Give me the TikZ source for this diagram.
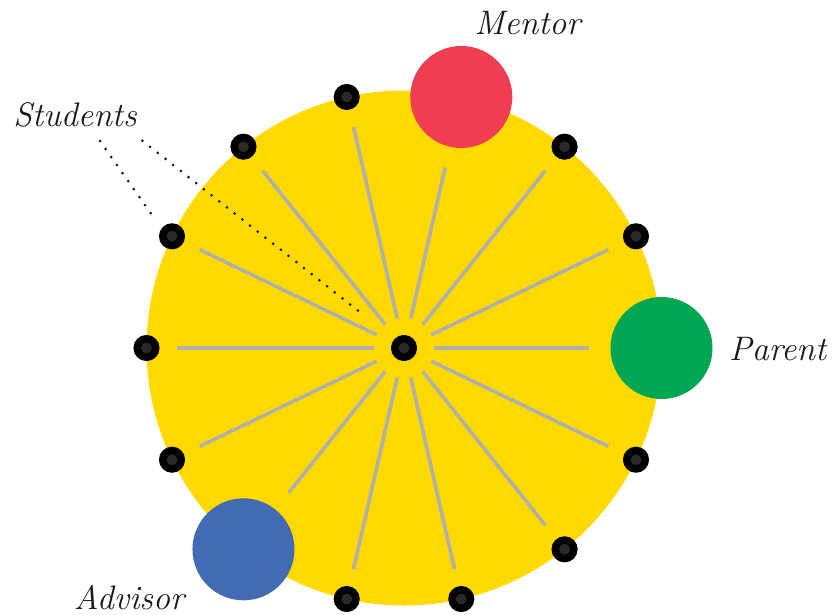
\documentclass[tikz,border=0pt]{standalone}
\usetikzlibrary{calc}
\definecolor{sunyellow}{RGB}{255,217,0}
\definecolor{mentorred}{RGB}{239,62,81}
\definecolor{parentgreen}{RGB}{0,166,81}
\definecolor{advisorblue}{RGB}{66,107,180}
\definecolor{spokegray}{RGB}{176,176,170}
\definecolor{dotgray}{RGB}{42,40,42}
\begin{document}
\begin{tikzpicture}[x=1pt,y=-1pt,
  dotnode/.style={circle,draw=black,fill=dotgray,line width=7.5pt,minimum size=18.5pt,inner sep=0pt,outer sep=0pt},
  bignode/.style={circle,minimum size=102pt,inner sep=0pt,outer sep=0pt},
  spoke/.style={draw=spokegray,line width=3.6pt,shorten <=21pt,shorten >=21.5pt},
  lab/.style={anchor=base,inner sep=0pt,text=black!90,font=\fontsize{34}{41}\selectfont\itshape},
  pointer/.style={draw=black!90,line width=3pt,line cap=round,dash pattern=on 0pt off 9.8pt}]
\useasboundingbox (0,0) rectangle (832,615);
\fill[sunyellow] (404,348) circle[radius=257.5pt];
\node[dotnode] (c) at (404,348) {};
\foreach \k in {1,2,4,5,6,7,8,10,11,12,13}{
  \node[dotnode] (n\k) at ($(c)+({-\k*360/14}:257.5)$) {};
}
\node[bignode,fill=parentgreen] (n0) at ($(c)+(0:257.5)$) {};
\node[bignode,fill=mentorred] (n3) at ($(c)+({-3*360/14}:257.5)$) {};
\node[bignode,fill=advisorblue] (n9) at ($(c)+({-9*360/14}:257.5)$) {};
\foreach \k in {0,...,13}{
  \draw[spoke] (c) -- (n\k);
}
\node[lab] (mentor) at (527.5,34.3) {Mentor};
\node[lab] (parent) at (777.7,360) {Parent};
\node[lab] (advisor) at (129,609) {Advisor};
\node[lab] (students) at (75,126.7) {Students};
\coordinate (s1) at (100,141);
\coordinate (e1) at (152,215);
\coordinate (s2) at (142.3,140.7);
\coordinate (e2) at (362.3,314);
\draw[pointer] (s1) -- (e1);
\draw[pointer] (s2) -- (e2);
\end{tikzpicture}
\end{document}
